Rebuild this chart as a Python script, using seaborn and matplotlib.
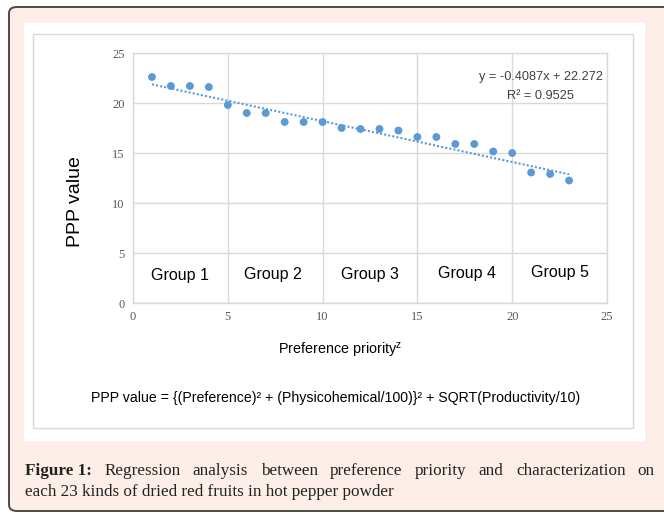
import numpy as np
import pandas as pd
import seaborn as sns
import matplotlib.pyplot as plt
from matplotlib.patches import FancyBboxPatch, Rectangle

# data
priority = list(range(1, 24))
ppp_value = [22.6, 21.7, 21.7, 21.6, 19.8, 19.0, 19.0, 18.1, 18.1, 18.1,
             17.5, 17.4, 17.4, 17.25, 16.6, 16.6, 15.9, 15.9, 15.15, 15.0,
             13.05, 12.9, 12.25]
slope = -0.4087
intercept = 22.272
group_labels = ["Group 1", "Group 2", "Group 3", "Group 4", "Group 5"]
group_x = [2.5, 7.4, 12.5, 17.6, 22.5]
group_y = [2.75, 2.85, 2.9, 2.95, 3.1]

df = pd.DataFrame({"priority": priority, "ppp": ppp_value})

sns.set_theme(style="whitegrid")
plt.rcParams["font.family"] = ["Liberation Sans", "DejaVu Sans"]

W, H = 664, 513
fig = plt.figure(figsize=(W / 100, H / 100), dpi=100)
fig.patch.set_facecolor("white")

def fx(x):
    return x / W

def fy(y):
    return 1 - y / H

# pink rounded frame, white panel, chart area border
fig.patches.append(FancyBboxPatch((fx(9), fy(511)), fx(700 - 9), (511 - 7) / H,
                                  boxstyle="round,pad=0,rounding_size=0.012",
                                  transform=fig.transFigure, facecolor="#fdeee8",
                                  edgecolor="#4a4a4a", linewidth=1.4, zorder=0))
fig.patches.append(Rectangle((fx(24), fy(441)), fx(645 - 24), (441 - 23) / H,
                             transform=fig.transFigure, facecolor="white",
                             edgecolor="none", zorder=0.5))
fig.patches.append(Rectangle((fx(33), fy(428)), fx(633 - 33), (428 - 34) / H,
                             transform=fig.transFigure, facecolor="white",
                             edgecolor="#d9d9d9", linewidth=1, zorder=0.6))

ax = fig.add_axes([fx(133), fy(303), fx(607 - 133), (303 - 53) / H])
ax.set_zorder(2)
ax.set_facecolor("white")

sns.scatterplot(data=df, x="priority", y="ppp", ax=ax, color="#5b9bd5",
                s=32, edgecolor="none", zorder=3)
xs = np.array([priority[0], priority[-1]])
ax.plot(xs, slope * xs + intercept, color="#5b9bd5", linestyle=(0, (1, 1)),
        linewidth=1.5, zorder=2)

ax.set_xlim(0, 25)
ax.set_ylim(0, 25)
ax.set_xticks(range(0, 26, 5))
ax.set_yticks(range(0, 26, 5))
ax.grid(True, color="#d9d9d9", linewidth=1)
for sp in ax.spines.values():
    sp.set_color("#d9d9d9")
    sp.set_linewidth(1)
ax.tick_params(length=0, pad=6, labelsize=9, labelcolor="#595959")
for lab in ax.get_xticklabels() + ax.get_yticklabels():
    lab.set_family("Liberation Serif")
ax.set_xlabel("")
ax.set_ylabel("")

for lab, gx, gy in zip(group_labels, group_x, group_y):
    ax.text(gx, gy, lab, ha="center", va="center", fontsize=11.5, color="black")

ax.text(21.5, 22.6, "y = -0.4087x + 22.272", ha="center", va="center",
        fontsize=9.2, color="#404040")
ax.text(21.5, 20.7, "R² = 0.9525", ha="center", va="center",
        fontsize=9.2, color="#404040")

fig.text(fx(75), fy(202), "PPP value", rotation=90, ha="center", va="center",
         fontsize=14, color="black")
fig.text(fx(340), fy(351), r"Preference priority$^{\mathregular{z}}$",
         ha="center", va="center", fontsize=10.4, color="black")
fig.text(fx(336), fy(398),
         "PPP value = {(Preference)² + (Physicohemical/100)}² + SQRT(Productivity/10)",
         ha="center", va="center", fontsize=10.2, color="black")

# caption, first line justified between x=25 and x=655
r = fig.canvas.get_renderer()
cap_size = 12.3
cap1 = fig.text(fx(25), fy(475), "Figure 1:", fontsize=cap_size, fontweight="bold",
                family="Liberation Serif", color="#222222", va="baseline")
x0 = cap1.get_window_extent(renderer=r).x1
words = "Regression analysis between preference priority and characterization on".split()
objs = [fig.text(0, fy(475), w, fontsize=cap_size, family="Liberation Serif",
                 color="#222222", va="baseline") for w in words]
widths = [o.get_window_extent(renderer=r).width for o in objs]
gap = (655 - x0 - sum(widths)) / len(words)
x = x0 + gap
for o, w in zip(objs, widths):
    o.set_x(fx(x))
    x += w + gap
fig.text(fx(25), fy(496), "each 23 kinds of dried red fruits in hot pepper powder",
         fontsize=cap_size, family="Liberation Serif", color="#222222", va="baseline")

plt.savefig("out.png", dpi=100)
